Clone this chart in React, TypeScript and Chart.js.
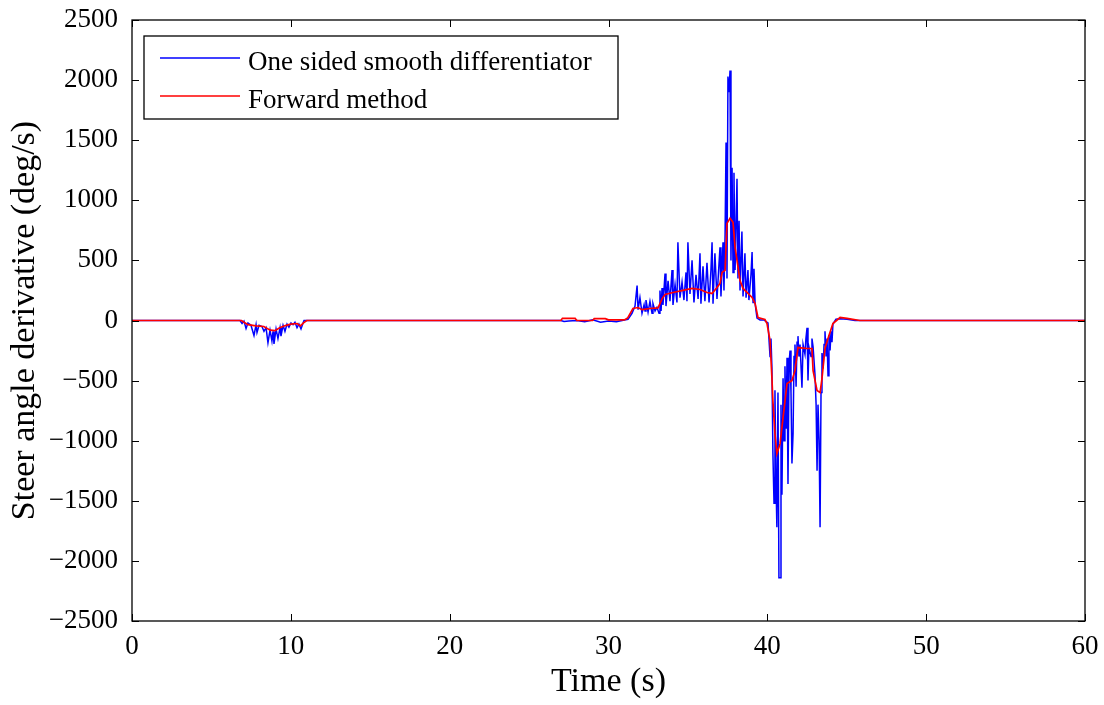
import React, { useEffect, useRef } from "react";
import { Chart, registerables } from "chart.js";

Chart.register(...registerables);

// ---- Data ----
const xTicks = [0, 10, 20, 30, 40, 50, 60];
const yTicks = [-2500, -2000, -1500, -1000, -500, 0, 500, 1000, 1500, 2000, 2500];

const seriesNames = ["One sided smooth differentiator", "Forward method"];

// One sided smooth differentiator (time s, deg/s)
const blueTime = [
  0, 6.8, 6.93, 7.05, 7.18, 7.3, 7.49, 7.68, 7.81, 7.87, 8.0, 8.18, 8.31, 8.44, 8.56, 8.69, 8.81, 8.88, 8.94,
  9.07, 9.19, 9.32, 9.38, 9.51, 9.63, 9.76, 9.88, 10.01, 10.14, 10.26, 10.39, 10.51, 10.64, 10.77, 10.83,
  27.0, 27.2, 27.5, 28.0, 28.5, 29.0, 29.5, 30.0, 30.5, 31.0, 31.23,
  31.48, 31.67, 31.8, 31.86, 31.98, 32.11, 32.24, 32.3, 32.36, 32.49, 32.61, 32.74, 32.8, 32.93, 33.05, 33.18,
  33.24, 33.31, 33.37, 33.43, 33.56, 33.62, 33.75, 33.87, 34.0, 34.06, 34.19, 34.31, 34.37, 34.5, 34.63, 34.75,
  34.88, 34.94, 35.0, 35.13, 35.26, 35.38, 35.51, 35.64, 35.76, 35.82, 35.95, 36.07, 36.2, 36.33, 36.45, 36.52,
  36.58, 36.7, 36.83, 36.96, 37.02, 37.08, 37.21, 37.27, 37.34, 37.4, 37.46, 37.52, 37.59, 37.65, 37.71, 37.78,
  37.84, 37.9, 37.97, 38.09, 38.15, 38.22, 38.28, 38.4, 38.47, 38.59, 38.66, 38.78, 38.84, 38.97, 39.04, 39.1,
  39.16, 39.23, 39.35, 39.54, 39.79, 39.92, 40.04, 40.17, 40.23, 40.29, 40.35, 40.42, 40.48, 40.54, 40.6, 40.67,
  40.73, 40.8, 40.86, 40.92, 40.99, 41.05, 41.11, 41.18, 41.24, 41.3, 41.37, 41.43, 41.49, 41.55, 41.62, 41.68,
  41.74, 41.81, 41.87, 41.93, 41.99, 42.06, 42.18, 42.25, 42.37, 42.43, 42.5, 42.56, 42.62, 42.75, 42.81, 42.88,
  43.0, 43.07, 43.13, 43.19, 43.26, 43.32, 43.38, 43.44, 43.51, 43.57, 43.63, 43.7, 43.76, 43.82, 43.88, 43.95,
  44.01, 44.07, 44.13, 44.32, 44.58, 45.02, 45.52, 60,
];
const blueValue = [
  0, 0, -25, -5, -67, -20, -40, -125, -35, -100, -40, -50, -90, -60, -185, -80, -170, -90, -195,
  -70, -150, -60, -130, -40, -90, -30, -55, -20, -35, -15, -60, -30, -70, -20, 0,
  0, -8, -5, 0, -10, 5, -15, -5, -10, 5, 10,
  60, 120, 290, 90, 190, 60, 130, 80, 170, 70, 160, 60, 140, 80, 110, 60,
  250, 80, 270, 130, 390, 120, 330, 160, 420, 130, 300, 150, 650, 190, 320, 170,
  400, 160, 650, 220, 500, 150, 380, 180, 560, 140, 450, 160, 480, 150, 420, 650,
  140, 560, 180, 480, 610, 200, 650, 250, 720, 1480, 350, 2030, 1900, 2080, 500, 1270,
  400, 1230, 420, 1180, 350, 830, 250, 740, 200, 560, 190, 420, 170, 380, 570, 150,
  430, 140, 20, 5, 5, -10, -20, -300, -150, -400, -1100, -1520, -580, -1300, -1720, -600,
  -2140, -2140, -700, -1450, -480, -1000, -380, -900, -310, -1360, -350, -250, -600, -1190, -940, -300,
  -200, -550, -180, -130, -300, -200, -560, -200, -280, -150, -60, -500, -220, -300, -150, -220,
  -450, -700, -1250, -700, -1000, -1720, -600, -270, -400, -200, -90, -300, -150, -460, -120, -250,
  -90, -180, -30, 10, 15, 10, 0, 0,
];

// Forward method (time s, deg/s)
const redTime = [
  0, 6.9, 7.0, 7.3, 7.8, 8.3, 8.7, 9.0, 9.3, 9.7, 10.0, 10.4, 10.6, 10.8, 11.0,
  27.0, 27.1, 27.9, 28.0, 29.0, 29.1, 29.8, 30.0, 31.0, 31.2, 31.54, 31.86, 32.11, 32.61, 33.12, 33.37,
  33.56, 34.06, 34.69, 35.26, 35.76, 36.2, 36.52, 36.83, 37.02, 37.15, 37.34, 37.46, 37.65, 37.84, 37.97,
  38.28, 38.47, 39.04, 39.23, 39.41, 39.85, 39.98, 40.17, 40.29, 40.35, 40.48, 40.6, 40.8, 40.99, 41.24,
  41.55, 41.74, 41.93, 42.5, 42.81, 42.88, 43.13, 43.32, 43.44, 43.63, 43.82, 44.13, 44.58, 45.02, 45.83, 60,
];
const redValue = [
  0, 0, -10, -35, -45, -50, -80, -85, -60, -40, -30, -25, -45, -20, 0,
  0, 18, 18, 0, 0, 15, 15, 5, 5, 20, 100, 108, 90, 100, 105, 180,
  217, 233, 250, 267, 258, 233, 225, 275, 308, 400, 417, 808, 850, 817, 608,
  333, 267, 192, 142, 25, 8, -25, -167, -483, -667, -942, -1108, -1025, -808, -525,
  -500, -417, -225, -233, -233, -417, -583, -600, -483, -233, -150, -25, 25, 17, 0, 0,
];

const FONT = "'Liberation Serif', 'Times New Roman', serif";

const fmt = (v: number) => (v < 0 ? "\u2212" + Math.abs(v) : String(v));

const framePlugin = {
  id: "matlabFrame",
  afterDraw(chart: any) {
    const { ctx, chartArea: a, scales } = chart;
    const xs = scales.x;
    const ys = scales.y;
    const tl = 7;
    ctx.save();
    ctx.strokeStyle = "#000";
    ctx.lineWidth = 1.3;
    ctx.strokeRect(a.left, a.top, a.right - a.left, a.bottom - a.top);
    ctx.lineWidth = 1;
    ctx.beginPath();
    xTicks.forEach((t) => {
      const px = Math.round(xs.getPixelForValue(t)) + 0.5;
      ctx.moveTo(px, a.bottom);
      ctx.lineTo(px, a.bottom - tl);
      ctx.moveTo(px, a.top);
      ctx.lineTo(px, a.top + tl);
    });
    yTicks.forEach((t) => {
      const py = Math.round(ys.getPixelForValue(t)) + 0.5;
      ctx.moveTo(a.left, py);
      ctx.lineTo(a.left + tl, py);
      ctx.moveTo(a.right, py);
      ctx.lineTo(a.right - tl, py);
    });
    ctx.stroke();

    // legend
    const lx = 144, ly = 36, lw = 474, lh = 83;
    ctx.fillStyle = "#fff";
    ctx.fillRect(lx, ly, lw, lh);
    ctx.lineWidth = 1.3;
    ctx.strokeStyle = "#000";
    ctx.strokeRect(lx, ly, lw, lh);
    const rows = [58, 96];
    chart.data.datasets.forEach((ds: any, i: number) => {
      ctx.strokeStyle = ds.borderColor;
      ctx.lineWidth = 1.3;
      ctx.beginPath();
      ctx.moveTo(160, rows[i]);
      ctx.lineTo(240, rows[i]);
      ctx.stroke();
      ctx.fillStyle = "#000";
      ctx.font = `27px ${FONT}`;
      ctx.textBaseline = "alphabetic";
      ctx.textAlign = "left";
      ctx.fillText(ds.label, 248, rows[i] + 12);
    });
    ctx.restore();
  },
};

export default function App() {
  const ref = useRef<HTMLCanvasElement>(null);
  useEffect(() => {
    if (!ref.current) return;
    const blue = blueTime.map((t, i) => ({ x: t, y: blueValue[i] }));
    const red = redTime.map((t, i) => ({ x: t, y: redValue[i] }));
    const chart = new Chart(ref.current, {
      type: "line",
      data: {
        datasets: [
          {
            label: seriesNames[0],
            data: blue,
            borderColor: "#0000ff",
            borderWidth: 1.5,
            pointRadius: 0,
            tension: 0,
            order: 2,
          },
          {
            label: seriesNames[1],
            data: red,
            borderColor: "#ff0000",
            borderWidth: 1.7,
            pointRadius: 0,
            tension: 0,
            order: 1,
          },
        ],
      },
      plugins: [framePlugin],
      options: {
        animation: false,
        responsive: false,
        maintainAspectRatio: false,
        layout: { padding: { left: 0, right: 19, top: 20, bottom: 0 } },
        plugins: { legend: { display: false }, tooltip: { enabled: false } },
        scales: {
          x: {
            type: "linear",
            min: 0,
            max: 60,
            afterBuildTicks: (s: any) => {
              s.ticks = xTicks.map((v) => ({ value: v }));
            },
            afterFit: (s: any) => {
              s.height = 84;
              s.paddingLeft = 0;
              s.paddingRight = 0;
            },
            grid: { display: false, drawTicks: false },
            border: { display: false },
            ticks: {
              padding: 10,
              color: "#000",
              font: { family: FONT, size: 27 },
              maxRotation: 0,
              callback: (v: any) => fmt(Number(v)),
            },
            title: {
              display: true,
              text: "Time (s)",
              color: "#000",
              font: { family: FONT, size: 34 },
              padding: { top: 0, bottom: 3 },
            },
          },
          y: {
            type: "linear",
            min: -2500,
            max: 2500,
            afterBuildTicks: (s: any) => {
              s.ticks = yTicks.map((v) => ({ value: v }));
            },
            afterFit: (s: any) => {
              s.width = 132;
              s.paddingTop = 0;
              s.paddingBottom = 0;
            },
            grid: { display: false, drawTicks: false },
            border: { display: false },
            ticks: {
              padding: 14,
              color: "#000",
              font: { family: FONT, size: 27 },
              callback: (v: any) => fmt(Number(v)),
            },
            title: {
              display: true,
              text: "Steer angle derivative (deg/s)",
              color: "#000",
              font: { family: FONT, size: 34 },
              padding: { top: 5, bottom: 0 },
            },
          },
        },
      },
    });
    return () => chart.destroy();
  }, []);
  return (
    <div style={{ position: "fixed", left: 0, top: 0, width: 1104, height: 705, background: "#fff" }}>
      <canvas ref={ref} width={1104} height={705} style={{ width: 1104, height: 705 }} />
    </div>
  );
}
